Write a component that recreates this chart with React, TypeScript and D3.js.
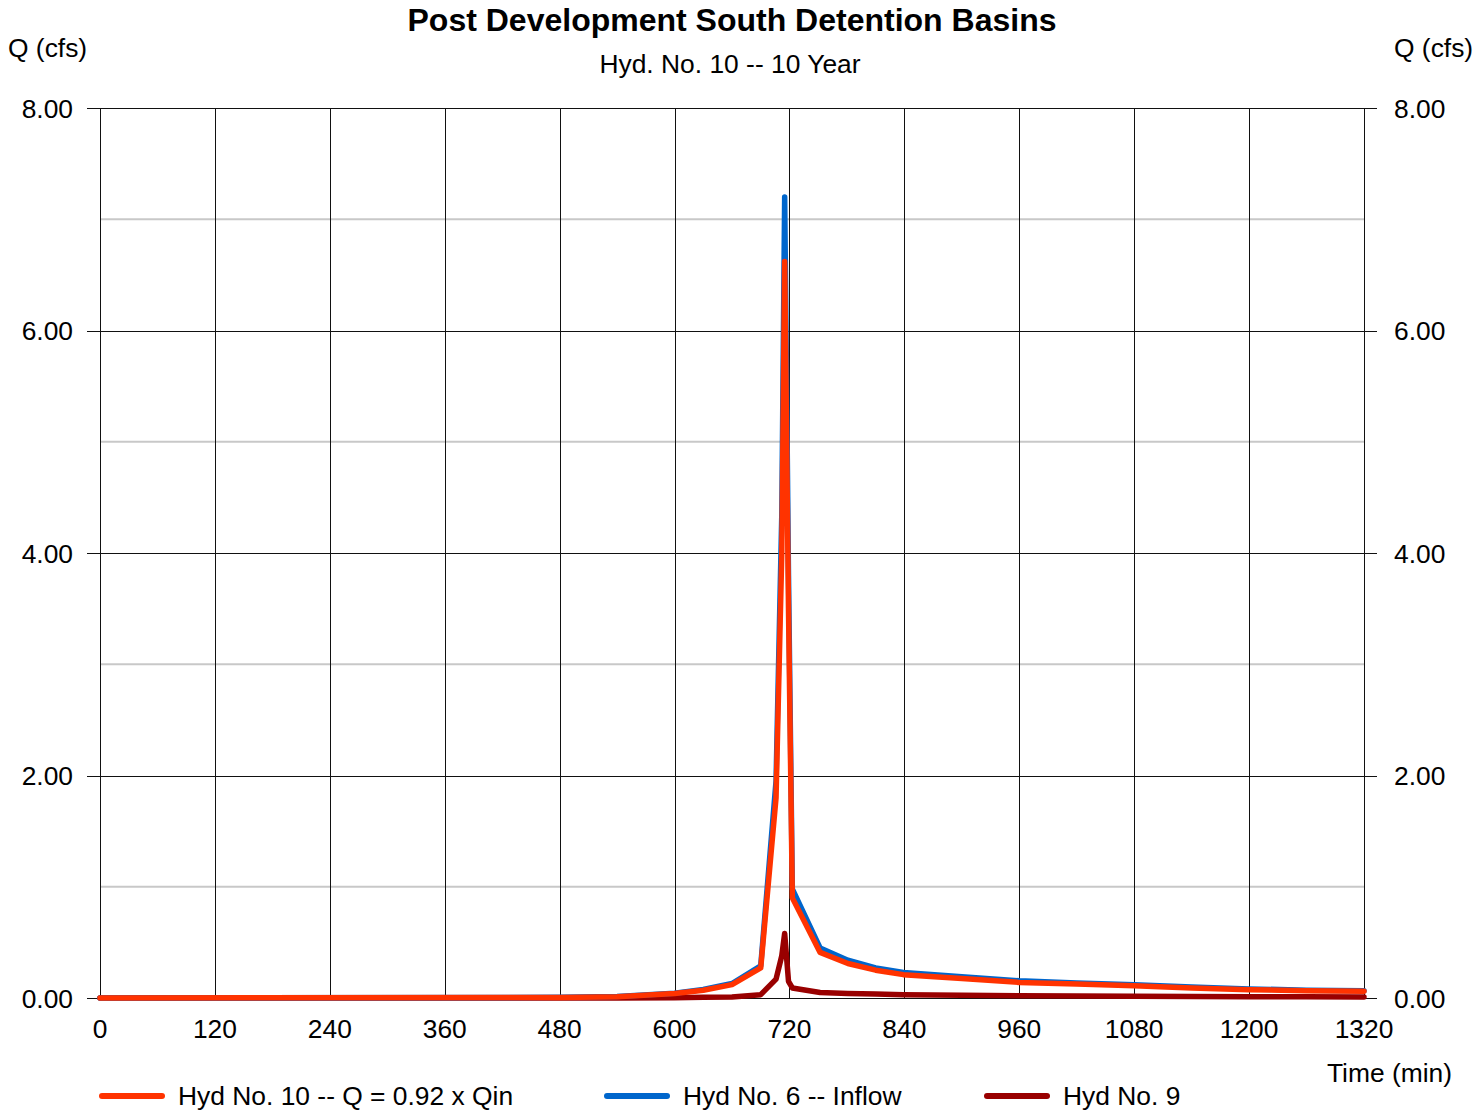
import React from "react";
import * as d3 from "d3";

const times = [0, 480, 540, 600, 630, 660, 690, 706, 712, 715, 719, 723, 752, 781, 810, 839, 900, 960, 1020, 1080, 1140, 1200, 1260, 1320];
const hyd10 = [0, 0.005, 0.012, 0.04, 0.07, 0.12, 0.27, 1.8, 4.0, 6.62, 3.5, 0.9, 0.41, 0.31, 0.25, 0.21, 0.175, 0.14, 0.125, 0.11, 0.09, 0.075, 0.065, 0.06];
const hyd6 = [0, 0.006, 0.013, 0.043, 0.076, 0.13, 0.29, 1.95, 4.35, 7.2, 3.8, 0.98, 0.45, 0.34, 0.27, 0.23, 0.19, 0.155, 0.135, 0.12, 0.1, 0.082, 0.07, 0.065];
const hyd9 = [0, 0, 0, 0.003, 0.006, 0.01, 0.03, 0.17, 0.38, 0.58, 0.15, 0.09, 0.05, 0.04, 0.035, 0.03, 0.025, 0.02, 0.018, 0.016, 0.014, 0.012, 0.011, 0.01];

const xTicks = [0, 120, 240, 360, 480, 600, 720, 840, 960, 1080, 1200, 1320];
const yMajor = [0, 2, 4, 6, 8];
const yMinor = [1, 3, 5, 7];

const seriesNames = ["Hyd No. 10 -- Q = 0.92 x Qin", "Hyd No. 6 -- Inflow", "Hyd No. 9"];
const seriesColors = ["#ff3300", "#0066cc", "#990000"];

const W = 1473;
const H = 1114;
const L = 100, R = 1364, T = 108, B = 998;
const FONT = "'Liberation Sans', Arial, sans-serif";
const FS = 26.4;

export default function App() {
  const x = d3.scaleLinear().domain([0, 1320]).range([L, R]);
  const y = d3.scaleLinear().domain([0, 8]).range([B, T]);
  const mk = (vals: number[]) =>
    d3.line<number>().x((_, i) => x(times[i])).y((v) => y(v))(vals) || "";

  const drawOrder = [
    { vals: hyd9, color: seriesColors[2] },
    { vals: hyd6, color: seriesColors[1] },
    { vals: hyd10, color: seriesColors[0] },
  ];

  const legendX = [100, 605, 985];

  return (
    <svg width={W} height={H} style={{ position: "absolute", left: 0, top: 0, background: "#fff" }} fontFamily={FONT}>
      <rect x={0} y={0} width={W} height={H} fill="#fff" />
      {yMinor.map((v) => (
        <line key={"mn" + v} x1={L} x2={R} y1={y(v)} y2={y(v)} stroke="#c8c8c8" strokeWidth={2} />
      ))}
      {xTicks.map((t) => (
        <line key={"vx" + t} x1={Math.round(x(t)) + 0.5} x2={Math.round(x(t)) + 0.5} y1={T} y2={B} stroke="#111" strokeWidth={1} />
      ))}
      {yMajor.map((v) => (
        <g key={"mj" + v}>
          <line x1={L - 13} x2={R + 13} y1={Math.round(y(v)) + 0.5} y2={Math.round(y(v)) + 0.5} stroke="#111" strokeWidth={1} />
          <text x={73} y={y(v)} dy="0.36em" textAnchor="end" fontSize={FS} fill="#000">
            {v.toFixed(2)}
          </text>
          <text x={1394} y={y(v)} dy="0.36em" textAnchor="start" fontSize={FS} fill="#000">
            {v.toFixed(2)}
          </text>
        </g>
      ))}
      {xTicks.map((t) => (
        <text key={"xl" + t} x={x(t)} y={1038} textAnchor="middle" fontSize={FS} fill="#000">
          {t}
        </text>
      ))}
      {drawOrder.map((s, i) => (
        <path key={"s" + i} d={mk(s.vals)} fill="none" stroke={s.color} strokeWidth={5.5} strokeLinejoin="round" strokeLinecap="round" />
      ))}
      <text x={732} y={31} textAnchor="middle" fontSize={32} fontWeight="bold" fill="#000">
        Post Development South Detention Basins
      </text>
      <text x={730} y={73} textAnchor="middle" fontSize={FS} fill="#000">
        Hyd. No. 10 -- 10 Year
      </text>
      <text x={8} y={57} fontSize={FS} fill="#000">Q (cfs)</text>
      <text x={1394} y={57} fontSize={FS} fill="#000">Q (cfs)</text>
      <text x={1452} y={1082} textAnchor="end" fontSize={FS} fill="#000">Time (min)</text>
      {seriesNames.map((n, i) => (
        <g key={"lg" + i}>
          <line x1={legendX[i] + 2} x2={legendX[i] + 62} y1={1096} y2={1096} stroke={seriesColors[i]} strokeWidth={6} strokeLinecap="round" />
          <text x={legendX[i] + 78} y={1105} fontSize={FS} fill="#000">{n}</text>
        </g>
      ))}
    </svg>
  );
}
